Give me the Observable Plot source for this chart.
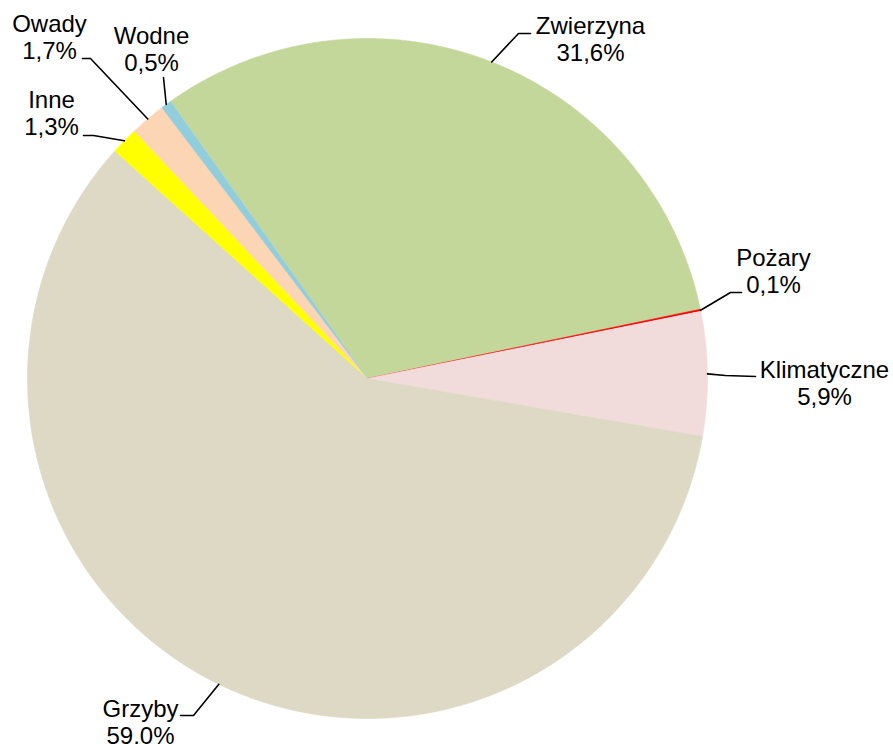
<!DOCTYPE html>
<html><head><meta charset="utf-8">
<script src="https://cdn.jsdelivr.net/npm/d3@7"></script>
<script src="https://cdn.jsdelivr.net/npm/@observablehq/plot@0.6"></script>
<style>body{margin:0;background:#fff} svg{display:block}</style>
</head><body><div id="chart"></div>
<script>
const categories = ["Zwierzyna","Pożary","Klimatyczne","Grzyby","Inne","Owady","Wodne"];
const values = [31.6, 0.1, 5.9, 59.0, 1.3, 1.7, 0.5];
const valueLabels = ["31,6%","0,1%","5,9%","59,0%","1,3%","1,7%","0,5%"];
const colors = ["#C4D79B","#FF0000","#F2DCDB","#DDD9C4","#FFFF00","#FCD5B4","#92CDDC"];

// layout
const W = 893, H = 744, CX = 367, CY = 378, R = 340;
const START = -35.4 * Math.PI / 180;
const LINE_GAP = 27.5;
const labelLayout = {
  "Zwierzyna":   {elbow: [518, 33],  end: [530, 33],  tx: 590, ty: 33},
  "Pożary":      {elbow: [730, 292], end: [741, 292], tx: 773, ty: 265},
  "Klimatyczne": {elbow: [725, 375], end: [755, 376], tx: 824, ty: 377},
  "Grzyby":      {elbow: [193, 715], end: [180, 715], tx: 140, ty: 716},
  "Inne":        {elbow: [93, 135],  end: [83, 135],  tx: 51,  ty: 107},
  "Owady":       {elbow: [90, 58],   end: [82, 58],   tx: 49,  ty: 31},
  "Wodne":       {elbow: [163, 77],  end: [163, 77],  tx: 151, ty: 43}
};

const arcs = d3.pie().sort(null).startAngle(START).endAngle(START + 2 * Math.PI)(values);

const polyPts = [];
const leaderPts = [];
const labels = [];
arcs.forEach((a, i) => {
  const cat = categories[i];
  const step = 0.25 * Math.PI / 180;
  const n = Math.max(2, Math.ceil((a.endAngle - a.startAngle) / step));
  polyPts.push({category: cat, x: CX, y: CY});
  for (let k = 0; k <= n; k++) {
    const t = a.startAngle + (a.endAngle - a.startAngle) * k / n;
    polyPts.push({category: cat, x: CX + R * Math.sin(t), y: CY - R * Math.cos(t)});
  }
  const mid = (a.startAngle + a.endAngle) / 2;
  const L = labelLayout[cat];
  leaderPts.push({category: cat, x: CX + R * Math.sin(mid), y: CY - R * Math.cos(mid)});
  leaderPts.push({category: cat, x: L.elbow[0], y: L.elbow[1]});
  leaderPts.push({category: cat, x: L.end[0], y: L.end[1]});
  labels.push({name: cat, val: valueLabels[i], tx: L.tx, ty: L.ty, ty2: L.ty + LINE_GAP});
});

const chart = Plot.plot({
  width: W, height: H, margin: 0,
  style: {fontFamily: "Arial, 'Liberation Sans', sans-serif", background: "#fff"},
  x: {domain: [0, W], range: [0, W], axis: null},
  y: {domain: [0, H], range: [0, H], axis: null},
  color: {domain: categories, range: colors},
  marks: [
    Plot.line(polyPts, {x: "x", y: "y", z: "category", fill: "category", stroke: "category", strokeWidth: 0.6, curve: "linear"}),
    Plot.line(leaderPts, {x: "x", y: "y", z: "category", stroke: "black", strokeWidth: 1.6, curve: "linear"}),
    Plot.text(labels, {x: "tx", y: "ty", text: "name", fontSize: 24, lineAnchor: "bottom", fill: "black"}),
    Plot.text(labels, {x: "tx", y: "ty2", text: "val", fontSize: 24, lineAnchor: "bottom", fill: "black"})
  ]
});
document.getElementById("chart").appendChild(chart);
</script>
</body></html>
